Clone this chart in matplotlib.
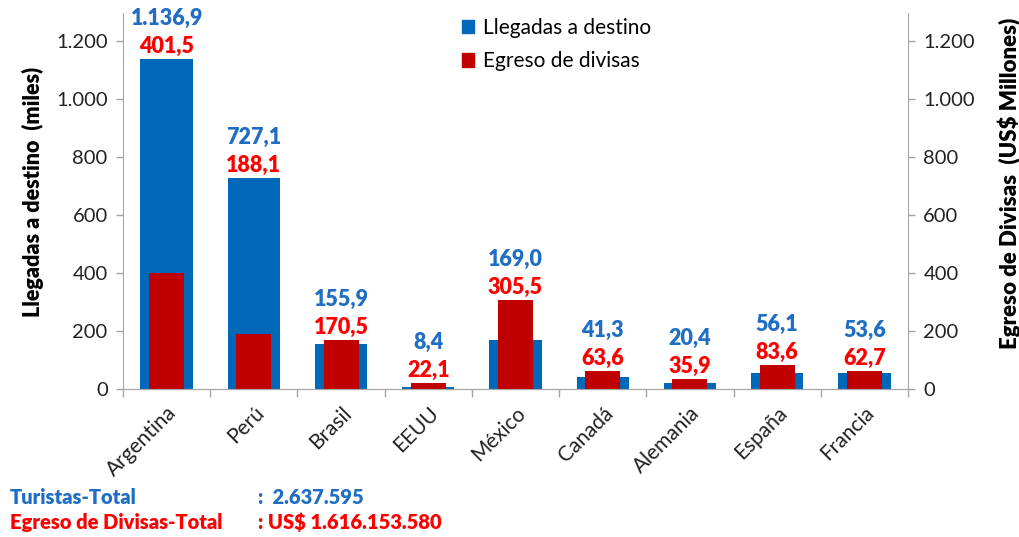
import matplotlib
matplotlib.use("Agg")
import matplotlib.pyplot as plt
import numpy as np
from matplotlib.ticker import FuncFormatter
from matplotlib.patches import Patch

plt.rcParams['font.family'] = ['Lato', 'DejaVu Sans']

countries = ["Argentina", "Perú", "Brasil", "EEUU", "México", "Canadá", "Alemania", "España", "Francia"]
llegadas = [1136.9, 727.1, 155.9, 8.4, 169.0, 41.3, 20.4, 56.1, 53.6]
egreso = [401.5, 188.1, 170.5, 22.1, 305.5, 63.6, 35.9, 83.6, 62.7]
yticks = [0, 200, 400, 600, 800, 1000, 1200]

BLUE = "#0068B8"
RED = "#C00000"
BLUE_TXT = "#1F6EC4"
RED_TXT = "#FF0000"
GRAY = "#A6A6A6"
BW = 'heavy'

def es_num(v, dec=1):
    s = f"{v:,.{dec}f}"
    return s.replace(",", "X").replace(".", ",").replace("X", ".")

fig = plt.figure(figsize=(10.19, 5.37), dpi=100)
ax = fig.add_axes([123/1019, 1-389/537, (908-123)/1019, (389-13)/537])
ax2 = ax.twinx()

x = np.arange(len(countries))
ax.bar(x, llegadas, width=0.6, color=BLUE, zorder=2)
ax2.bar(x, egreso, width=0.4, color=RED, zorder=3)

ymax = 1296
for a in (ax, ax2):
    a.set_ylim(0, ymax)
    a.set_xlim(-0.5, len(countries)-0.5)
    a.set_yticks(yticks)
    a.yaxis.set_major_formatter(FuncFormatter(lambda v, p: es_num(v, 0)))
    for s in a.spines.values():
        s.set_color(GRAY)
    a.spines['top'].set_visible(False)
    a.tick_params(axis='y', colors=GRAY, length=5, width=1, labelsize=14.5, labelcolor="#222222", pad=6)

ax.spines['right'].set_visible(False)
ax2.spines['left'].set_visible(False)

ax.set_xticks(x)
ax.set_xticklabels(countries, rotation=45, ha='right', rotation_mode='anchor', fontsize=15, color="#222222")
ax.set_xticks(np.arange(len(countries)+1) - 0.5, minor=True)
ax.tick_params(axis='x', which='major', length=0, pad=10)
ax.tick_params(axis='x', which='minor', length=6, color=GRAY, width=1)

ax.set_ylabel("Llegadas a destino  (miles)", fontsize=15.5, fontweight=BW, labelpad=8)
ax2.set_ylabel("Egreso de Divisas  (US$ Millones)", fontsize=16, fontweight=BW, labelpad=10)
ax.yaxis.set_label_coords(-0.101, 0.524)
ax2.yaxis.set_label_coords(1.114, 0.548)

# data labels
for i in x:
    top = max(llegadas[i], egreso[i])
    ax.annotate(es_num(egreso[i]), (i, top), xytext=(0, 2), textcoords='offset pixels',
                ha='center', va='bottom', color=RED_TXT, fontsize=15.5, fontweight=BW, zorder=5)
    ax.annotate(es_num(llegadas[i]), (i, top), xytext=(0, 30), textcoords='offset pixels',
                ha='center', va='bottom', color=BLUE_TXT, fontsize=15.5, fontweight=BW, zorder=5)

handles = [Patch(color=BLUE, label="Llegadas a destino"), Patch(color=RED, label="Egreso de divisas")]
leg = ax.legend(handles=handles, loc='upper left', bbox_to_anchor=(444/1019, 1.0), bbox_transform=fig.transFigure,
                frameon=False, fontsize=15, handlelength=0.6, handleheight=0.6, handletextpad=0.4,
                labelspacing=0.65, borderaxespad=0.45)

fs = 14.5
fig.text(10/1019, 1-497/537, "Turistas-Total", color=BLUE_TXT, fontsize=fs, fontweight=BW, va='center')
fig.text(258/1019, 1-497/537, ":  2.637.595", color=BLUE_TXT, fontsize=fs, fontweight=BW, va='center')
fig.text(10/1019, 1-522/537, "Egreso de Divisas-Total", color=RED_TXT, fontsize=fs, fontweight=BW, va='center')
fig.text(258/1019, 1-522/537, ": US$ 1.616.153.580", color=RED_TXT, fontsize=fs, fontweight=BW, va='center')

fig.savefig("out.png", dpi=100)
